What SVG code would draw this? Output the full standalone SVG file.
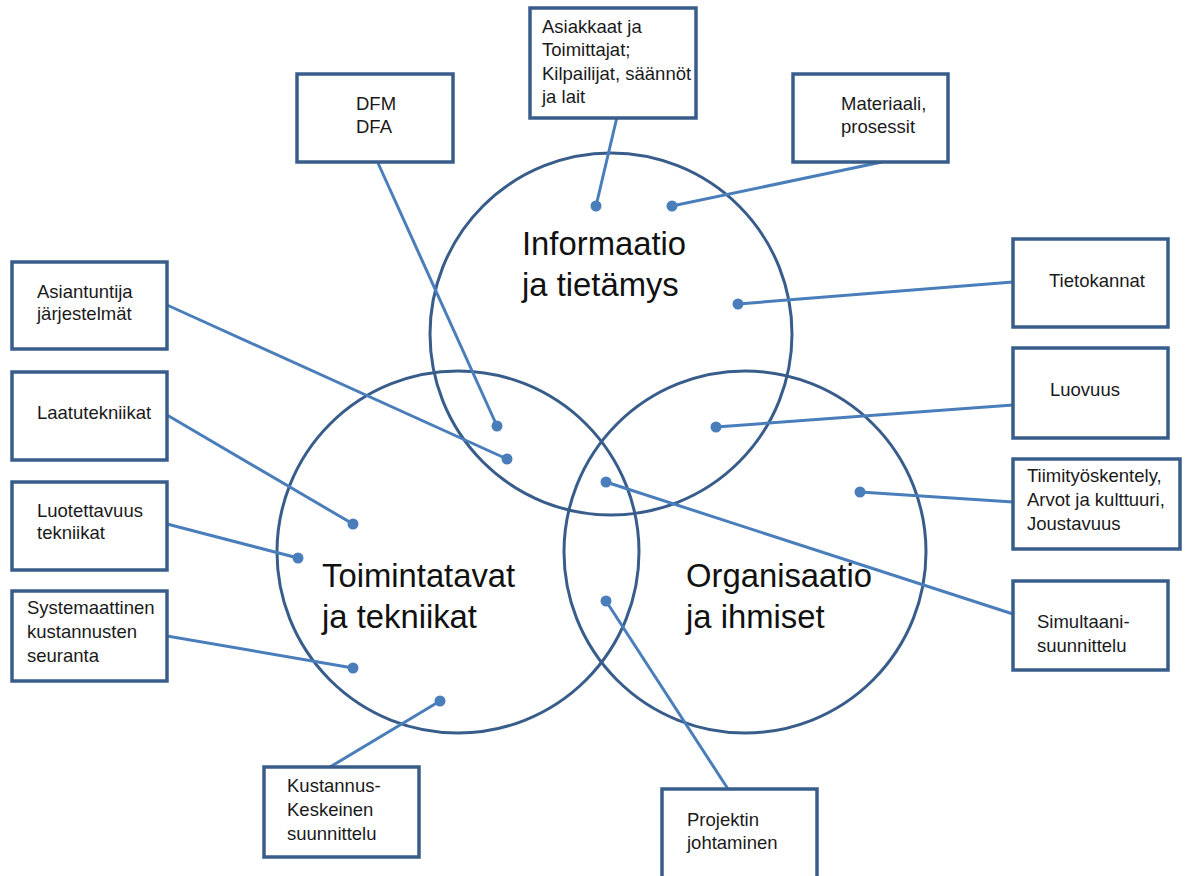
<svg xmlns="http://www.w3.org/2000/svg" width="1186" height="876" viewBox="0 0 1186 876">
  <style>
    .ring { fill: none; stroke: #385d8a; stroke-width: 3; }
    .box { fill: #ffffff; stroke: #385d8a; stroke-width: 3.5; }
    .link { stroke: #4a7ebb; stroke-width: 3; fill: none; }
    .dot { fill: #4a7ebb; }
    .lbl { font-family: "Liberation Sans", Arial, sans-serif; font-size: 18.5px; fill: #1a1a1a; }
    .big { font-family: "Liberation Sans", Arial, sans-serif; font-size: 32.8px; fill: #111111; }
  </style>
  <rect width="1186" height="876" fill="#ffffff"/>

  <!-- three overlapping areas -->
  <g id="circle-info">
    <circle class="ring" cx="611" cy="334" r="181"/>
  </g>
  <g id="circle-methods">
    <circle class="ring" cx="458" cy="552" r="181"/>
  </g>
  <g id="circle-org">
    <circle class="ring" cx="745" cy="552" r="181"/>
  </g>

  <!-- connectors from boxes to points inside the areas -->
  <g id="connectors">
    <line class="link" x1="378" y1="163" x2="497" y2="426"/><circle class="dot" cx="497" cy="426" r="5.5"/>
    <line class="link" x1="617" y1="117" x2="596" y2="206"/><circle class="dot" cx="596" cy="206" r="5.5"/>
    <line class="link" x1="882" y1="162" x2="672" y2="206"/><circle class="dot" cx="672" cy="206" r="5.5"/>
    <line class="link" x1="1013" y1="282" x2="738" y2="304"/><circle class="dot" cx="738" cy="304" r="5.5"/>
    <line class="link" x1="167" y1="305" x2="507" y2="459"/><circle class="dot" cx="507" cy="459" r="5.5"/>
    <line class="link" x1="1013" y1="405" x2="716" y2="427"/><circle class="dot" cx="716" cy="427" r="5.5"/>
    <line class="link" x1="1013" y1="502" x2="860" y2="492"/><circle class="dot" cx="860" cy="492" r="5.5"/>
    <line class="link" x1="1013" y1="614" x2="606" y2="482"/><circle class="dot" cx="606" cy="482" r="5.5"/>
    <line class="link" x1="167" y1="415" x2="353" y2="524"/><circle class="dot" cx="353" cy="524" r="5.5"/>
    <line class="link" x1="167" y1="524" x2="298" y2="558"/><circle class="dot" cx="298" cy="558" r="5.5"/>
    <line class="link" x1="167" y1="636" x2="353" y2="668"/><circle class="dot" cx="353" cy="668" r="5.5"/>
    <line class="link" x1="330" y1="767" x2="440" y2="701"/><circle class="dot" cx="440" cy="701" r="5.5"/>
    <line class="link" x1="728" y1="789" x2="606" y2="601"/><circle class="dot" cx="606" cy="601" r="5.5"/>
  </g>

  <!-- area titles -->
  <g id="title-info">
    <text class="big" x="522" y="255">Informaatio</text>
    <text class="big" x="522" y="296">ja tietämys</text>
  </g>
  <g id="title-methods">
    <text class="big" x="322" y="587">Toimintatavat</text>
    <text class="big" x="322" y="628">ja tekniikat</text>
  </g>
  <g id="title-org">
    <text class="big" x="686" y="587">Organisaatio</text>
    <text class="big" x="686" y="628">ja ihmiset</text>
  </g>

  <!-- label boxes -->
  <g id="box-dfm">
    <rect class="box" x="297" y="74" width="156" height="88"/>
    <text class="lbl" x="356" y="110">DFM</text>
    <text class="lbl" x="356" y="133">DFA</text>
  </g>
  <g id="box-asiakkaat">
    <rect class="box" x="530" y="8" width="166" height="110"/>
    <text class="lbl" x="542" y="33">Asiakkaat ja</text>
    <text class="lbl" x="542" y="56">Toimittajat;</text>
    <text class="lbl" x="542" y="80">Kilpailijat, säännöt</text>
    <text class="lbl" x="542" y="103">ja lait</text>
  </g>
  <g id="box-materiaali">
    <rect class="box" x="793" y="74" width="155" height="88"/>
    <text class="lbl" x="841" y="110">Materiaali,</text>
    <text class="lbl" x="841" y="133">prosessit</text>
  </g>
  <g id="box-tietokannat">
    <rect class="box" x="1013" y="239" width="155" height="88"/>
    <text class="lbl" x="1049" y="287">Tietokannat</text>
  </g>
  <g id="box-luovuus">
    <rect class="box" x="1013" y="348" width="155" height="90"/>
    <text class="lbl" x="1050" y="396">Luovuus</text>
  </g>
  <g id="box-tiimi">
    <rect class="box" x="1013" y="459" width="167" height="90"/>
    <text class="lbl" x="1027" y="482">Tiimityöskentely,</text>
    <text class="lbl" x="1027" y="506">Arvot ja kulttuuri,</text>
    <text class="lbl" x="1027" y="530">Joustavuus</text>
  </g>
  <g id="box-simultaani">
    <rect class="box" x="1013" y="581" width="155" height="89"/>
    <text class="lbl" x="1037" y="628">Simultaani-</text>
    <text class="lbl" x="1037" y="652">suunnittelu</text>
  </g>
  <g id="box-asiantuntija">
    <rect class="box" x="12" y="262" width="155" height="87"/>
    <text class="lbl" x="37" y="298">Asiantuntija</text>
    <text class="lbl" x="37" y="320">järjestelmät</text>
  </g>
  <g id="box-laatu">
    <rect class="box" x="12" y="372" width="155" height="88"/>
    <text class="lbl" x="37" y="419">Laatutekniikat</text>
  </g>
  <g id="box-luotettavuus">
    <rect class="box" x="12" y="482" width="155" height="88"/>
    <text class="lbl" x="37" y="517">Luotettavuus</text>
    <text class="lbl" x="37" y="539">tekniikat</text>
  </g>
  <g id="box-systemaattinen">
    <rect class="box" x="12" y="591" width="155" height="90"/>
    <text class="lbl" x="27" y="614">Systemaattinen</text>
    <text class="lbl" x="27" y="638">kustannusten</text>
    <text class="lbl" x="27" y="662">seuranta</text>
  </g>
  <g id="box-kustannus">
    <rect class="box" x="264" y="767" width="155" height="90"/>
    <text class="lbl" x="287" y="792">Kustannus-</text>
    <text class="lbl" x="287" y="816">Keskeinen</text>
    <text class="lbl" x="287" y="840">suunnittelu</text>
  </g>
  <g id="box-projektin">
    <rect class="box" x="662" y="789" width="155" height="90"/>
    <text class="lbl" x="687" y="826">Projektin</text>
    <text class="lbl" x="687" y="849">johtaminen</text>
  </g>
</svg>
